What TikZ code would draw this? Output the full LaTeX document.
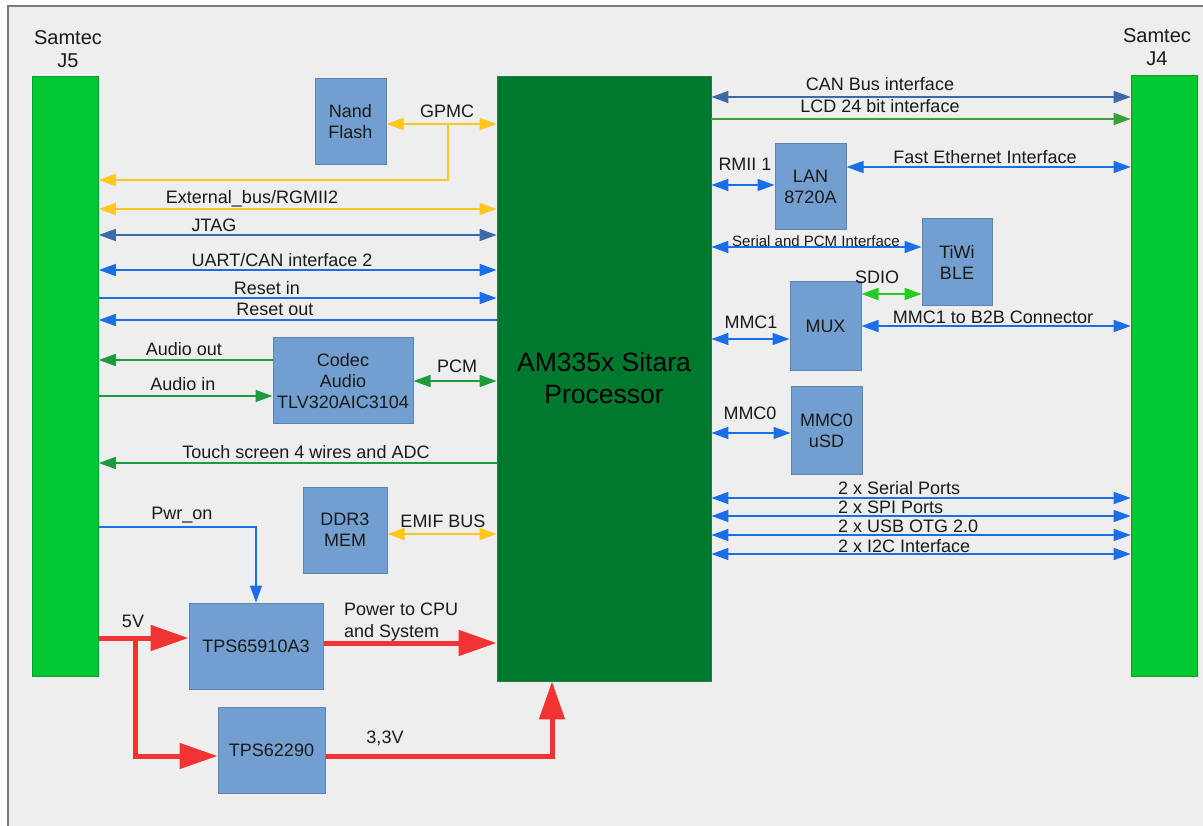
\documentclass[tikz,border=0pt]{standalone}
\usepackage{fontspec}
\setmainfont{Liberation Sans}
\usetikzlibrary{arrows.meta}
\definecolor{bgc}{HTML}{EEEEEE}
\definecolor{framec}{HTML}{7A7A7A}
\definecolor{jgreen}{HTML}{00C832}
\definecolor{pgreen}{HTML}{00782E}
\definecolor{boxblue}{HTML}{729FCF}
\definecolor{boxedge}{HTML}{5B84B8}
\definecolor{bblue}{HTML}{1A6FE8}
\definecolor{sblue}{HTML}{3B6AA6}
\definecolor{yel}{HTML}{FFC61E}
\definecolor{dgreen}{HTML}{1E9B3E}
\definecolor{lgreen}{HTML}{3A9E3A}
\definecolor{sgreen}{HTML}{22CC22}
\definecolor{rred}{HTML}{F23333}
\definecolor{txt}{HTML}{1A1A1A}
\begin{document}
\begin{tikzpicture}[x=1pt,y=-1pt,
  box/.style={draw=boxedge,fill=boxblue,line width=1pt,inner sep=0pt,align=center,
    font=\fontsize{18}{21}\selectfont,text=txt},
  jbar/.style={draw=jgreen!80!black,fill=jgreen,line width=0.6pt,inner sep=0pt,minimum width=66pt},
  lbl/.style={inner sep=0pt,font=\fontsize{18}{22}\selectfont,text=txt,text height=13pt,text depth=4pt},
  slbl/.style={inner sep=0pt,font=\fontsize{15}{18}\selectfont,text=txt},
  tip/.style={-{Triangle[length=17pt,width=12pt]}},
  dtip/.style={{Triangle[length=17pt,width=12pt]}-{Triangle[length=17pt,width=12pt]}},
  bline/.style={draw=bblue,line width=1.5pt,color=bblue},
  sline/.style={draw=sblue,line width=1.5pt,color=sblue},
  yline/.style={draw=yel,line width=1.8pt,color=yel},
  gline/.style={draw=dgreen,line width=1.5pt,color=dgreen},
  lgline/.style={draw=lgreen,line width=1.5pt,color=lgreen},
  sgline/.style={draw=sgreen,line width=1.8pt,color=sgreen},
  rline/.style={draw=rred,line width=5pt,color=rred,-{Triangle[length=38pt,width=25pt]}},
]
\useasboundingbox (0,0) rectangle (1203,826);
\fill[white] (0,0) rectangle (1203,826);
\fill[bgc] (8,6) rectangle (1203,826);
\draw[framec,line width=1.5pt] (8,826) -- (8,6) -- (1203,6);

% connectors bars and processor
\node[jbar,minimum height=600pt] (j5) at (65.5,376) {};
\node[jbar,minimum height=601pt] (j4) at (1164,375.5) {};
\node[align=center,inner sep=0pt,font=\fontsize{20}{23}\selectfont,text=txt] (j5t) at (68,49) {Samtec\\J5};
\node[align=center,inner sep=0pt,font=\fontsize{20}{23}\selectfont,text=txt] (j4t) at (1157,47) {Samtec\\J4};
\node[draw=pgreen!70!gray,fill=pgreen,line width=0.8pt,minimum width=214pt,minimum height=605pt,inner sep=0pt,
  align=center,font=\fontsize{26.5}{32}\selectfont,text=black] (proc) at (604,378.5) {AM335x Sitara\\Processor};

% boxes
\node[box,minimum width=71pt,minimum height=86pt] (nand) at (350.5,122) {Nand\\Flash};
\node[box,minimum width=140pt,minimum height=86pt] (codec) at (343,381) {Codec\\Audio\\TLV320AIC3104};
\node[box,minimum width=84pt,minimum height=86pt] (ddr) at (345,530) {DDR3\\MEM};
\node[box,minimum width=134pt,minimum height=86pt] (tps1) at (256,646) {TPS65910A3};
\node[box,minimum width=107pt,minimum height=86pt] (tps2) at (271.5,750) {TPS62290};
\node[box,minimum width=71pt,minimum height=86pt] (lan) at (810.5,187) {LAN\\8720A};
\node[box,minimum width=70pt,minimum height=87pt] (tiwi) at (957,262.5) {TiWi\\BLE};
\node[box,minimum width=71pt,minimum height=89pt] (mux) at (825.5,326.5) {MUX};
\node[box,minimum width=71pt,minimum height=87pt] (mmc0) at (826.5,430.5) {MMC0\\uSD};

% left side connectors
\coordinate (gp) at (448,124);
\draw[yline,dtip] (nand.east |- 0,124) -- (proc.west |- 0,124);
\draw[yline,tip] (gp) -- (448,180) -- (j5.east |- 0,180);
\draw[yline,dtip] (j5.east |- 0,209) -- (proc.west |- 0,209);
\draw[sline,dtip] (j5.east |- 0,235) -- (proc.west |- 0,235);
\draw[bline,dtip] (j5.east |- 0,270) -- (proc.west |- 0,270);
\draw[bline,tip] (j5.east |- 0,298) -- (proc.west |- 0,298);
\draw[bline,tip] (proc.west |- 0,320) -- (j5.east |- 0,320);
\draw[gline,tip] (codec.west |- 0,360) -- (j5.east |- 0,360);
\draw[gline,tip] (j5.east |- 0,396) -- (codec.west |- 0,396);
\draw[gline,dtip] (codec.east |- 0,381) -- (proc.west |- 0,381);
\draw[gline,tip] (proc.west |- 0,463) -- (j5.east |- 0,463);
\draw[yline,dtip] (ddr.east |- 0,534) -- (proc.west |- 0,534);
\draw[bline,tip,line width=1.2pt] (j5.east |- 0,527) -- (256,527) -- (tps1.north -| 256,0);

% power
\coordinate (br) at (135,638);
\draw[rline] (j5.east |- 0,638) -- (tps1.west |- 0,638);
\draw[rline] (br) -- (135,756) -- (tps2.west |- 0,756);
\draw[rline] (tps1.east |- 0,643) -- (proc.west |- 0,643);
\draw[rline] (tps2.east |- 0,756) -- (552,756) -- (proc.south -| 552,0);

% right side connectors
\draw[sline,dtip] (proc.east |- 0,97) -- (j4.west |- 0,97);
\draw[lgline,tip] (proc.east |- 0,119) -- (j4.west |- 0,119);
\draw[bline,dtip] (proc.east |- 0,185) -- (lan.west |- 0,185);
\draw[bline,dtip] (lan.east |- 0,167) -- (j4.west |- 0,167);
\draw[bline,dtip] (proc.east |- 0,247) -- (tiwi.west |- 0,247);
\draw[sgline,dtip] (mux.east |- 0,294) -- (tiwi.west |- 0,294);
\draw[bline,dtip] (proc.east |- 0,339) -- (mux.west |- 0,339);
\draw[bline,dtip] (mux.east |- 0,326) -- (j4.west |- 0,326);
\draw[bline,dtip] (proc.east |- 0,433) -- (mmc0.west |- 0,433);
\draw[bline,dtip] (proc.east |- 0,498) -- (j4.west |- 0,498);
\draw[bline,dtip] (proc.east |- 0,516) -- (j4.west |- 0,516);
\draw[bline,dtip] (proc.east |- 0,535) -- (j4.west |- 0,535);
\draw[bline,dtip] (proc.east |- 0,554) -- (j4.west |- 0,554);

% labels
\node[lbl] (l1) at (447,113) {GPMC};
\node[lbl] (l2) at (252,199) {External\_bus/RGMII2};
\node[lbl] (l3) at (214,227) {JTAG};
\node[lbl] (l4) at (282,262) {UART/CAN interface 2};
\node[lbl] (l5) at (267,290) {Reset in};
\node[lbl] (l6) at (275,311) {Reset out};
\node[lbl] (l7) at (184,351) {Audio out};
\node[lbl] (l8) at (183,386) {Audio in};
\node[lbl] (l9) at (457,368) {PCM};
\node[lbl] (l10) at (306,454) {Touch screen 4 wires and ADC};
\node[lbl] (l11) at (182,515) {Pwr\_on};
\node[lbl] (l12) at (443,523) {EMIF BUS};
\node[lbl] (l13) at (133,623) {5V};
\node[inner sep=0pt,anchor=west,align=left,font=\fontsize{18}{22}\selectfont,text=txt] (l14) at (344,622) {Power to CPU\\and System};
\node[lbl] (l15) at (385,739) {3,3V};
\node[lbl] (r1) at (880,86) {CAN Bus interface};
\node[lbl] (r2) at (880,108) {LCD 24 bit interface};
\node[lbl] (r3) at (745,166) {RMII 1};
\node[lbl] (r4) at (985,159) {Fast Ethernet Interface};
\node[slbl] (r5) at (816,241) {Serial and PCM Interface};
\node[lbl] (r6) at (877,279) {SDIO};
\node[lbl] (r7) at (751,324) {MMC1};
\node[lbl] (r8) at (993,319) {MMC1 to B2B Connector};
\node[lbl] (r9) at (750,415) {MMC0};
\node[lbl,anchor=west] (r10) at (838,490) {2 x Serial Ports};
\node[lbl,anchor=west] (r11) at (838,509) {2 x SPI Ports};
\node[lbl,anchor=west] (r12) at (838,528) {2 x USB OTG 2.0};
\node[lbl,anchor=west] (r13) at (838,548) {2 x I2C Interface};
\end{tikzpicture}
\end{document}
